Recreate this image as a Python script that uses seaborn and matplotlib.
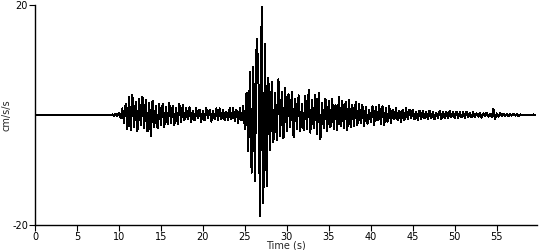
import numpy as np
import pandas as pd
import matplotlib
matplotlib.use("Agg")
import matplotlib.pyplot as plt
import seaborn as sns

# Acceleration samples (cm/s/s); quiet before 9 s
t_start = 9.0
dt = 0.2
accel = [
    0.0, 0.1, -0.1, 0.2, -0.2,
    0.4, -0.6, 1.2, -1.4, 2.0,
    -2.6, 3.2, -2.8, 3.6, -2.2,
    2.4, -3.0, 3.0, -1.8, 3.3,
    -2.4, 2.8, -3.0, 2.2, -3.8,
    2.6, -2.2, 1.6, -2.4, 2.0,
    -1.8, 2.0, -2.2, 1.4, -1.6,
    2.2, -1.4, 1.6, -1.8, 1.2,
    -1.6, 2.0, -1.2, 1.8, -1.0,
    1.2, -0.8, 1.4, -1.2, 0.8,
    -1.0, 1.2, -0.6, 1.0, -1.2,
    0.8, -1.0, 1.2, -0.6, 1.0,
    -1.2, 0.8, -0.8, 1.2, -1.0,
    1.2, -0.8, 1.0, -1.0, 0.6,
    -1.0, 1.3, -0.8, 1.2, -1.1,
    0.9, -1.4, 1.2, -1.0, 1.6,
    -2.5, 4.0, -6.5, 7.8, -10.5,
    8.7, -12.0, 13.8, 9.0, -18.4,
    19.6, -16.0, 13.0, -13.0, 6.7,
    -6.4, 6.0, -5.0, 4.0, -4.5,
    6.5, -3.8, 4.2, -4.2, 5.0,
    -3.0, 3.8, -2.2, 4.2, -4.0,
    3.0, -2.5, 3.6, -3.0, 2.0,
    -2.8, 3.4, -2.6, 4.5, -3.2,
    2.8, -2.4, 3.6, -3.4, 4.0,
    -4.4, 2.2, -2.4, 3.0, -3.0,
    2.6, -2.2, 3.0, -2.6, 1.8,
    -2.8, 3.2, -2.0, 2.6, -2.4,
    2.4, -2.8, 2.8, -2.2, 1.8,
    -2.0, 2.4, -1.8, 2.0, -1.4,
    1.8, -2.0, 1.4, -1.6, 1.0,
    -1.2, 1.6, -1.8, 1.4, -1.0,
    1.8, -1.6, 1.6, -1.8, 1.2,
    -1.2, 1.6, -1.4, 1.0, -0.8,
    1.2, -1.0, 0.8, -1.2, 1.0,
    -1.0, 1.2, -0.8, 1.0, -0.6,
    1.0, -0.8, 0.6, -1.0, 0.8,
    -0.8, 0.8, -0.6, 0.6, -0.8,
    0.8, -0.6, 0.6, -0.8, 0.4,
    -0.5, 0.7, -0.7, 0.6, -0.5,
    0.6, -0.6, 0.8, -0.4, 0.5,
    -0.6, 0.6, -0.5, 0.5, -0.4,
    0.5, -0.5, 0.6, -0.3, 0.3,
    -0.4, 0.5, -0.4, 0.3, -0.3,
    0.4, -0.5, 0.3, -0.2, 0.4,
    -0.3, 0.2, -0.4, 1.1, -0.8,
    0.3, -0.3, 0.3, -0.2, 0.2,
    -0.2, 0.2, -0.2, 0.2, -0.1,
    0.2, -0.1, 0.2, -0.2, 0.1,
    -0.1, 0.1, -0.1, 0.1, -0.1,
    0.1, -0.1, 0.1, 0.0,
]
x_ticks = [0, 5, 10, 15, 20, 25, 30, 35, 40, 45, 50, 55]
y_ticks = [-20, 20]
x_label = "Time (s)"
y_label = "cm/s/s"

times = np.concatenate([[0.0], t_start + dt * np.arange(len(accel))])
values = np.concatenate([[0.0], accel])
df = pd.DataFrame({"time": times, "accel": values})

sns.set_theme(style="ticks")
plt.rcParams["font.family"] = ["DejaVu Sans"]

fig = plt.figure(figsize=(5.5, 2.5), dpi=100)
ax = fig.add_axes([35 / 550, 25 / 250, (537 - 35) / 550, 220 / 250])
sns.lineplot(data=df, x="time", y="accel", ax=ax, color="black",
             linewidth=0.72, estimator=None, sort=False, antialiased=False)

ax.set_xlim(0, 59.8)
ax.set_ylim(-20, 20)
ax.set_xticks(x_ticks)
ax.set_xticklabels([str(v) for v in x_ticks])
ax.set_yticks(y_ticks)
ax.set_yticklabels([str(v) for v in y_ticks])
ax.tick_params(axis="both", labelsize=7, length=4, width=0.8, pad=1,
               colors="black")
ax.set_xlabel(x_label, fontsize=7, labelpad=-1)
ax.set_ylabel(y_label, fontsize=7)
ax.yaxis.set_label_coords(-0.046, 0.5)
for s in ["top", "right"]:
    ax.spines[s].set_visible(False)
for s in ["left", "bottom"]:
    ax.spines[s].set_linewidth(1.0)
    ax.spines[s].set_color("black")

fig.savefig("out.png", dpi=100, facecolor="white")
